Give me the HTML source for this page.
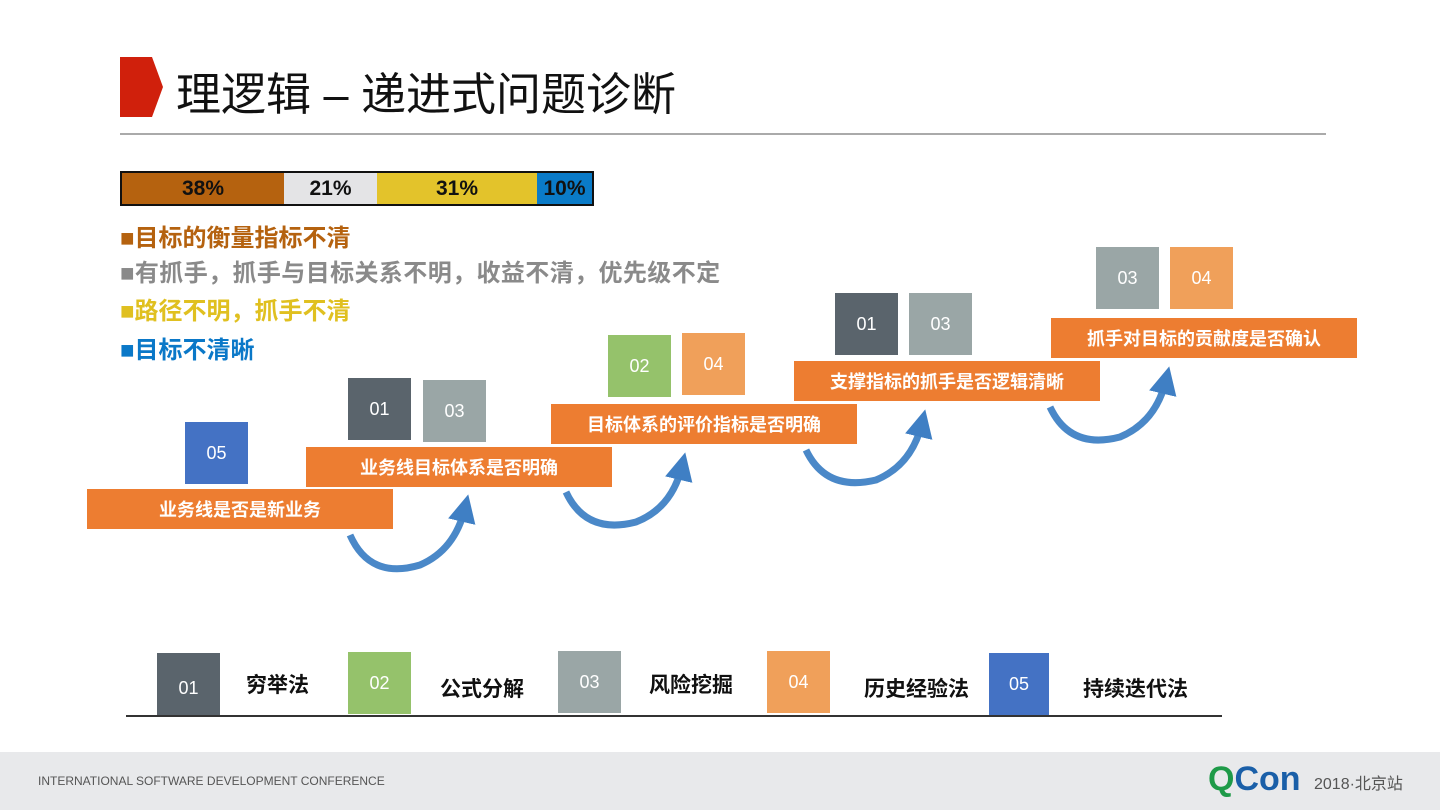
<!DOCTYPE html>
<html><head><meta charset="utf-8"><style>
body{margin:0;width:1440px;height:810px;background:#fff;position:relative;overflow:hidden;font-family:"Liberation Sans","Noto Sans CJK SC",sans-serif}
.a{position:absolute}
.bar{position:absolute;background:#ed7d31;color:#fff;font-size:18px;font-weight:bold;display:flex;align-items:center;justify-content:center;height:40px;width:306px}
.sq{position:absolute;width:63px;height:62px;color:#fff;font-size:18px;display:flex;align-items:center;justify-content:center}
.lg{position:absolute;font-size:24px;font-weight:bold;white-space:nowrap}
.bl{position:absolute;font-size:21px;font-weight:bold;color:#111}
</style></head><body>
<svg class="a" style="left:0;top:0" width="1440" height="810">
<polygon points="120,57 152,57 163,87 152,117 120,117" fill="#d0200c"/>
<line x1="120" y1="134" x2="1326" y2="134" stroke="#aaa" stroke-width="2"/>
<defs><marker id="m" markerWidth="4" markerHeight="4" refX="2" refY="2" orient="auto"><path d="M0,0 L4,2 L0,4z" fill="#3f7fc4"/></marker></defs>
<g fill="none" stroke="#4a88c8" stroke-width="7" marker-end="url(#m)">
<path d="M350,535 Q370,580 420,565 Q455,550 465,508"/>
<path d="M566,492 Q586,535 636,522 Q672,508 682,466"/>
<path d="M806,450 Q826,492 876,480 Q912,465 922,423"/>
<path d="M1050,407 Q1070,450 1120,437 Q1156,422 1166,380"/>
</g>
<rect x="0" y="752" width="1440" height="58" fill="#e8e9eb"/>
<line x1="126" y1="716" x2="1222" y2="716" stroke="#333" stroke-width="2"/>
</svg>
<div class="a" style="left:176px;top:58px;font-size:45px;color:#111">理逻辑 – 递进式问题诊断</div>
<div class="a" style="left:120px;top:171px;width:470px;height:31px;border:2px solid #111;display:flex;font-size:21px;font-weight:bold;color:#111">
<div style="width:162px;background:#b5620f;text-align:center;line-height:31px">38%</div>
<div style="width:93px;background:#e4e4e6;text-align:center;line-height:31px">21%</div>
<div style="width:160px;background:#e3c32b;text-align:center;line-height:31px">31%</div>
<div style="width:55px;background:#0a7bc8;text-align:center;line-height:31px">10%</div></div>
<div class="lg" style="left:120px;top:218px;color:#b5620f">■目标的衡量指标不清</div>
<div class="lg" style="left:120px;top:253px;color:#8a8a8a;letter-spacing:0.4px">■有抓手，抓手与目标关系不明，收益不清，优先级不定</div>
<div class="lg" style="left:120px;top:291px;color:#e0c020">■路径不明，抓手不清</div>
<div class="lg" style="left:120px;top:330px;color:#0a78c8">■目标不清晰</div>
<div class="bar" style="left:87px;top:489px">业务线是否是新业务</div>
<div class="bar" style="left:306px;top:447px">业务线目标体系是否明确</div>
<div class="bar" style="left:551px;top:404px">目标体系的评价指标是否明确</div>
<div class="bar" style="left:794px;top:361px">支撑指标的抓手是否逻辑清晰</div>
<div class="bar" style="left:1051px;top:318px">抓手对目标的贡献度是否确认</div>
<div class="sq" style="left:185px;top:422px;background:#4472c4">05</div>
<div class="sq" style="left:348px;top:378px;background:#5a646c">01</div>
<div class="sq" style="left:423px;top:380px;background:#9aa6a6">03</div>
<div class="sq" style="left:608px;top:335px;background:#95c26b">02</div>
<div class="sq" style="left:682px;top:333px;background:#f0a05a">04</div>
<div class="sq" style="left:835px;top:293px;background:#5a646c">01</div>
<div class="sq" style="left:909px;top:293px;background:#9aa6a6">03</div>
<div class="sq" style="left:1096px;top:247px;background:#9aa6a6">03</div>
<div class="sq" style="left:1170px;top:247px;background:#f0a05a">04</div>
<div class="sq" style="left:157px;top:653px;background:#5a646c;align-items:flex-end;height:62px"><span style="margin-bottom:16px">01</span></div>
<div class="bl" style="left:246px;top:669px">穷举法</div>
<div class="sq" style="left:348px;top:652px;background:#95c26b">02</div>
<div class="bl" style="left:440px;top:673px">公式分解</div>
<div class="sq" style="left:558px;top:651px;background:#9aa6a6">03</div>
<div class="bl" style="left:649px;top:669px">风险挖掘</div>
<div class="sq" style="left:767px;top:651px;background:#f0a05a">04</div>
<div class="bl" style="left:864px;top:673px">历史经验法</div>
<div class="sq" style="left:989px;top:653px;width:60px;background:#4472c4">05</div>
<div class="bl" style="left:1083px;top:673px">持续迭代法</div>
<div class="a" style="left:38px;top:774px;font-size:12px;color:#555">INTERNATIONAL SOFTWARE DEVELOPMENT CONFERENCE</div>
<div class="a" style="left:1208px;top:760px;font-size:34px;font-weight:bold;color:#1a5fa8"><span style="color:#1e9a48">Q</span>Con</div>
<div class="a" style="left:1314px;top:770px;font-size:16px;color:#555">2018·北京站</div>
</body></html>
